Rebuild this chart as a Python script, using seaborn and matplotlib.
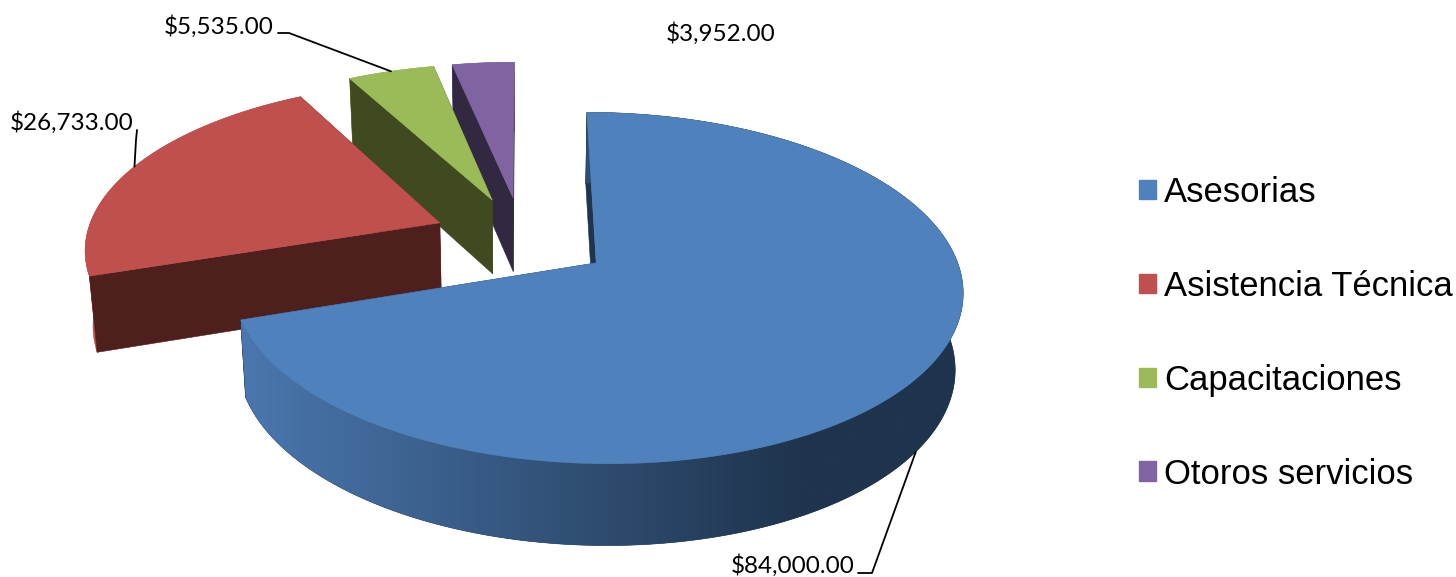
#!/usr/bin/env python3
"""Exploded 3D style pie of income by service."""

import matplotlib

matplotlib.use("Agg")
import matplotlib.pyplot as plt
import numpy as np
import seaborn as sns
from matplotlib.colors import LinearSegmentedColormap
from matplotlib.patches import Patch, Polygon

CATEGORIES = ["Asesorias", "Asistencia Técnica", "Capacitaciones", "Otoros servicios"]
VALUES = [84000.0, 26733.0, 5535.0, 3952.0]
COLORS = ["#4F81BD", "#C0504D", "#9BBB59", "#8064A2"]
SIDE_COLORS = ["#1F344D", "#4F1F1E", "#3F4A21", "#322842"]
WALL_LIGHT = "#4A77AE"

# projection of the pie plane to pixels
CX, CY = 522.0, 238.0
RX, RY = 354.0, 165.0
PERSPECTIVE = 0.14
EXPLODE = 0.253
DEPTH = 75.0
SHRINK = 0.018


def project(u, v, z=0.0):
    """Map a point of the pie plane, z=1 being the underside, to pixels."""
    s = 1.0 / (1.0 + PERSPECTIVE * v)
    x = CX + RX * u * s
    y = CY - RY * v * s + DEPTH * z * np.sqrt(s)
    return np.column_stack([CX + (x - CX) * (1 - SHRINK * z), y])


def rim(angle, mid):
    """Plane coordinates of the rim at an angle, for a slice exploded along mid."""
    u = np.sin(angle) + EXPLODE * np.sin(mid)
    v = np.cos(angle) + EXPLODE * np.cos(mid)
    return u, v


def add_poly(ax, points, color, zorder):
    patch = Polygon(points, closed=True, facecolor=color, edgecolor=color,
                    linewidth=0.4, zorder=zorder)
    ax.add_patch(patch)
    return patch


def draw_slice(ax, start, end, color, side, zorder, gradient=False):
    """Draw the faces of one slice, back to front."""
    mid = (start + end) / 2
    angles = np.linspace(start, end, 400)
    au, av = EXPLODE * np.sin(mid), EXPLODE * np.cos(mid)
    u, v = rim(angles, mid)
    apex_top, apex_bot = project(au, av), project(au, av, 1.0)
    top, bottom = project(u, v), project(u, v, 1.0)
    cuts = [[apex_top[0], top[i], bottom[i], apex_bot[0]] for i in (-1, 0)]
    wall = np.vstack([top, bottom[::-1]])
    if gradient:
        for cut in cuts:
            add_poly(ax, cut, side, zorder)
        patch = add_poly(ax, wall, side, zorder + 0.1)
        shade = LinearSegmentedColormap.from_list("wall", [WALL_LIGHT, side])
        ramp = np.clip((np.linspace(wall[:, 0].min(), wall[:, 0].max(), 512) - 240) / 560, 0, 1)
        image = ax.imshow(ramp[None, :], cmap=shade, vmin=0, vmax=1, aspect="auto",
                          extent=(wall[:, 0].min(), wall[:, 0].max(),
                                  wall[:, 1].max(), wall[:, 1].min()),
                          zorder=zorder + 0.15)
        image.set_clip_path(patch)
    else:
        add_poly(ax, wall, color, zorder)
        for cut in cuts:
            add_poly(ax, cut, side, zorder + 0.1)
    add_poly(ax, np.vstack([apex_top, top]), color, zorder + 0.2)


def main() -> None:
    sns.set_theme(style="white")
    plt.rcParams["font.family"] = ["Liberation Sans", "DejaVu Sans"]
    fig, ax = plt.subplots(figsize=(14.56, 5.77), dpi=100)
    ax.set_position([0, 0, 1, 1])
    ax.axis("off")

    values = np.array(VALUES)
    edges = np.concatenate([[0], np.cumsum(values)]) / values.sum() * 2 * np.pi
    # purple sits behind green, green behind red, blue in front of all
    order = [3, 2, 1, 0]
    for rank, i in enumerate(order):
        draw_slice(ax, edges[i], edges[i + 1], COLORS[i], SIDE_COLORS[i],
                   rank + 2, gradient=i == 0)
    ax.set_xlim(0, 1456)
    ax.set_ylim(577, 0)

    # labels and their leader lines, which end on the rim at the mid angle
    mids = (edges[:-1] + edges[1:]) / 2
    labels = [f"${value:,.2f}" for value in VALUES]
    spots = [(793, 566), (72, 123), (219, 27), (721, 34)]
    elbows = [[(858, 573), (872, 573)], [(137, 130), (136, 140)], [(278, 33), (289, 33)], None]
    for i, (label, spot) in enumerate(zip(labels, spots)):
        ax.text(*spot, label, ha="center", va="center", fontsize=17.5,
                family=["Lato", "DejaVu Sans"], color="black", zorder=10)
        if elbows[i] is None:
            continue
        u, v = rim(mids[i], mids[i])
        end = project(u, v, 1.0 if i == 0 else 0.0)
        path = np.vstack([elbows[i], end])
        ax.plot(path[:, 0], path[:, 1], color="black", lw=1.3, zorder=9)

    handles = [Patch(facecolor=c, edgecolor=c) for c in COLORS]
    ax.legend(handles, CATEGORIES, loc="center left", bbox_to_anchor=(1139 / 1456, 0.4225),
              frameon=False, labelspacing=1.762, handlelength=0.5,
              handleheight=0.5, handletextpad=0.23, borderpad=0, borderaxespad=0,
              labelcolor="black", prop={"family": "Liberation Sans", "size": 24.9})

    fig.savefig("out.png", dpi=100)


if __name__ == "__main__":
    main()
